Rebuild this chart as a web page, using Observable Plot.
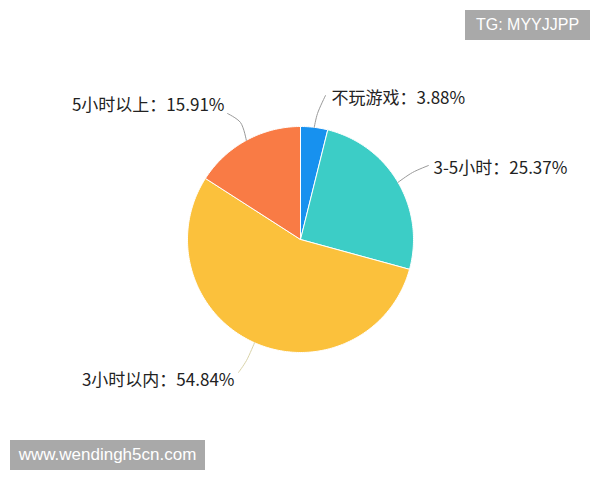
<!DOCTYPE html>
<html><head><meta charset="utf-8">
<script src="https://cdn.jsdelivr.net/npm/d3@7"></script>
<script src="https://cdn.jsdelivr.net/npm/@observablehq/plot@0.6"></script>
<style>
body{margin:0;background:#fff;}
#wrap{position:relative;width:600px;height:480px;overflow:hidden;}
.wm{position:absolute;background:#a9a9a9;color:#fff;font-family:"Liberation Sans",Arial,sans-serif;display:flex;align-items:center;justify-content:center;}
</style></head><body>
<div id="wrap"></div>
<script>
// ---- data ----
const categories = ["不玩游戏", "3-5小时", "3小时以内", "5小时以上"];
const shares = [3.88, 25.37, 54.84, 15.91];
const colors = ["#1791ef", "#3ccdc6", "#fbc13c", "#f97b45"];
const labels = ["不玩游戏：3.88%", "3-5小时：25.37%", "3小时以内：54.84%", "5小时以上：15.91%"];

// ---- layout (pixel offsets from pie center) ----
const R = 113;
const labelAnchor = ["start", "start", "end", "end"];
const labelPos = [[31, -141], [133, -71], [-66, 141], [-76, -134]];
const leaderMid = [[17, -126], [112, -67], [-54, 121], [-60, -117]];
const leaderEnd = [[25, -144], [128, -74], [-62, 133], [-73, -126]];
const lineColor = ["#9a9a9a", "#9a9a9a", "#d9d3a8", "#9a9a9a"];

// ---- geometry from values ----
const total = d3.sum(shares);
let acc = 0;
const slices = categories.map((k, i) => {
  const a0 = acc / total * 2 * Math.PI;
  acc += shares[i];
  const a1 = acc / total * 2 * Math.PI;
  return {k, i, a0, a1, mid: (a0 + a1) / 2};
});
const polys = [];
for (const s of slices) {
  polys.push({k: s.k, x: 0, y: 0});
  const n = Math.max(2, Math.ceil((s.a1 - s.a0) / (Math.PI / 180)));
  for (let j = 0; j <= n; j++) {
    const a = s.a0 + (s.a1 - s.a0) * j / n;
    polys.push({k: s.k, x: R * Math.sin(a), y: -R * Math.cos(a)});
  }
  polys.push({k: s.k, x: 0, y: 0});
}
const leaders = [];
for (const s of slices) {
  leaders.push({k: s.k, x: R * Math.sin(s.mid), y: -R * Math.cos(s.mid)});
  leaders.push({k: s.k, x: leaderMid[s.i][0], y: leaderMid[s.i][1]});
  leaders.push({k: s.k, x: leaderEnd[s.i][0], y: leaderEnd[s.i][1]});
}
const texts = slices.map(s => ({k: s.k, t: labels[s.i], x: labelPos[s.i][0], y: labelPos[s.i][1], anchor: labelAnchor[s.i]}));

const fontFamily = '"Noto Sans CJK SC", "Noto Sans", sans-serif';
const chart = Plot.plot({
  width: 600, height: 480,
  margin: 0,
  x: {domain: [-300, 300], range: [0, 600], axis: null},
  y: {domain: [-239, 241], range: [0, 480], axis: null},
  color: {domain: categories, range: colors},
  style: {background: "#fff", fontFamily},
  marks: [
    Plot.line(polys, {x: "x", y: "y", z: "k", fill: "k", stroke: "#ffffff", strokeWidth: 1, strokeLinejoin: "round"}),
    ...slices.map(s => Plot.line(leaders.filter(d => d.k === s.k), {x: "x", y: "y", curve: "catmull-rom", stroke: lineColor[s.i], strokeWidth: 1})),
    Plot.text(texts.filter(d => d.anchor === "start"), {x: "x", y: "y", text: "t", textAnchor: "start", fontSize: 17, fill: "#222", fontFamily}),
    Plot.text(texts.filter(d => d.anchor === "end"), {x: "x", y: "y", text: "t", textAnchor: "end", fontSize: 17, fill: "#222", fontFamily})
  ]
});
const wrap = document.getElementById("wrap");
wrap.appendChild(chart);
const wm1 = document.createElement("div");
wm1.className = "wm";
wm1.style.cssText = "left:465px;top:10px;width:125px;height:30px;font-size:16px;";
wm1.textContent = "TG: MYYJJPP";
const wm2 = document.createElement("div");
wm2.className = "wm";
wm2.style.cssText = "left:10px;top:440px;width:195px;height:30px;font-size:17px;";
wm2.textContent = "www.wendingh5cn.com";
wrap.appendChild(wm1);
wrap.appendChild(wm2);
</script>
</body></html>
